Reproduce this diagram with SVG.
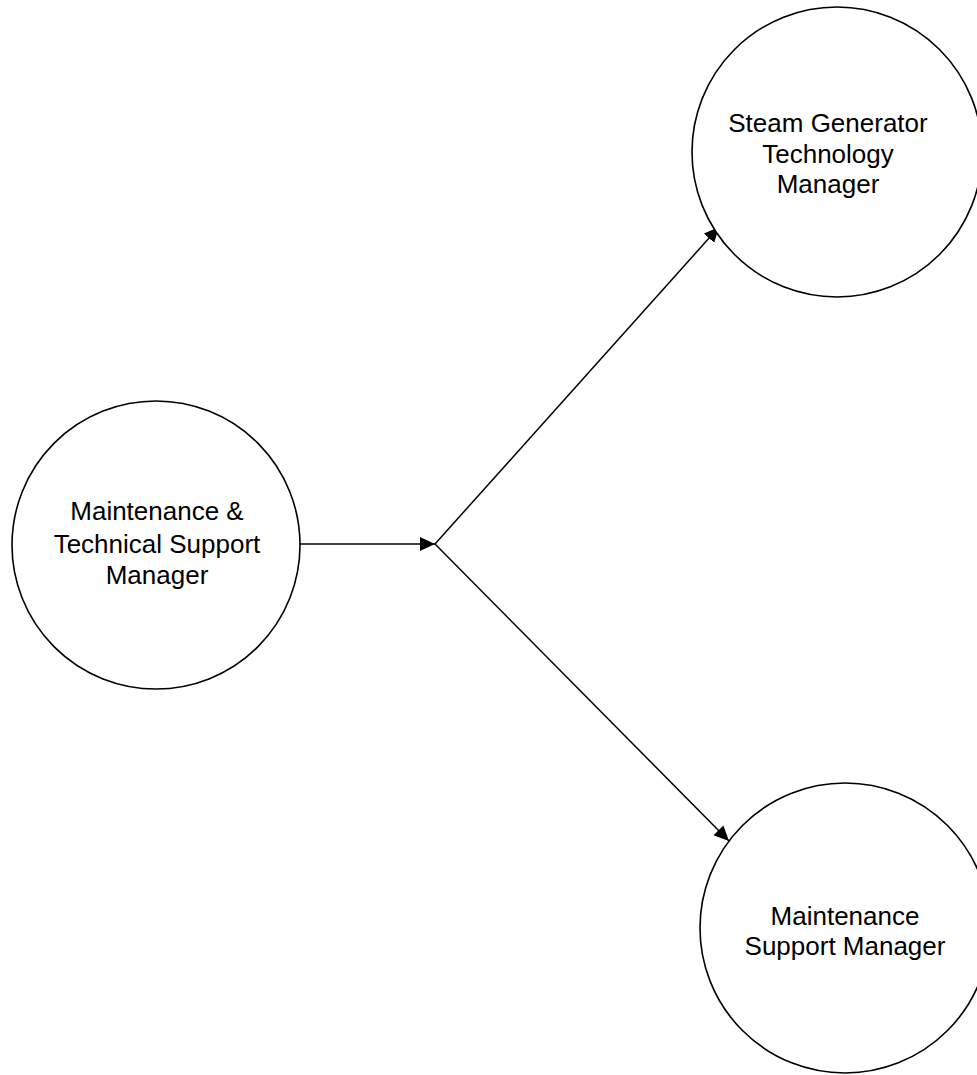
<svg xmlns="http://www.w3.org/2000/svg" width="977" height="1075" viewBox="0 0 977 1075">
<style>
.node{fill:#fff;stroke:#000;stroke-width:1.6}
.lbl{font-family:"Liberation Sans",Arial,sans-serif;font-size:26px;fill:#000;text-anchor:middle}
.edge{stroke:#000;stroke-width:1.5;fill:none}
</style>
<defs>
<marker id="arr" markerUnits="userSpaceOnUse" markerWidth="16" markerHeight="14" refX="15" refY="7" orient="auto">
<path d="M0,0 L15,7 L0,14 Z" fill="#000"/>
</marker>
</defs>
<rect width="977" height="1075" fill="#fff"/>
<g id="connectors">
<line class="edge" x1="299" y1="544" x2="435" y2="544" marker-end="url(#arr)"/>
<line class="edge" x1="435" y1="544" x2="719" y2="227" marker-end="url(#arr)"/>
<line class="edge" x1="435" y1="544" x2="729" y2="841" marker-end="url(#arr)"/>
</g>
<g id="mts">
<circle class="node" cx="156" cy="545" r="144"/>
<text class="lbl" x="157" y="520">Maintenance &amp;</text>
<text class="lbl" x="157" y="553">Technical Support</text>
<text class="lbl" x="157" y="584">Manager</text>
</g>
<g id="sgt">
<circle class="node" cx="837" cy="152" r="145"/>
<text class="lbl" x="828" y="132">Steam Generator</text>
<text class="lbl" x="828" y="163">Technology</text>
<text class="lbl" x="828" y="193">Manager</text>
</g>
<g id="ms">
<circle class="node" cx="845" cy="928" r="145"/>
<text class="lbl" x="845" y="925">Maintenance</text>
<text class="lbl" x="845" y="955">Support Manager</text>
</g>
</svg>
